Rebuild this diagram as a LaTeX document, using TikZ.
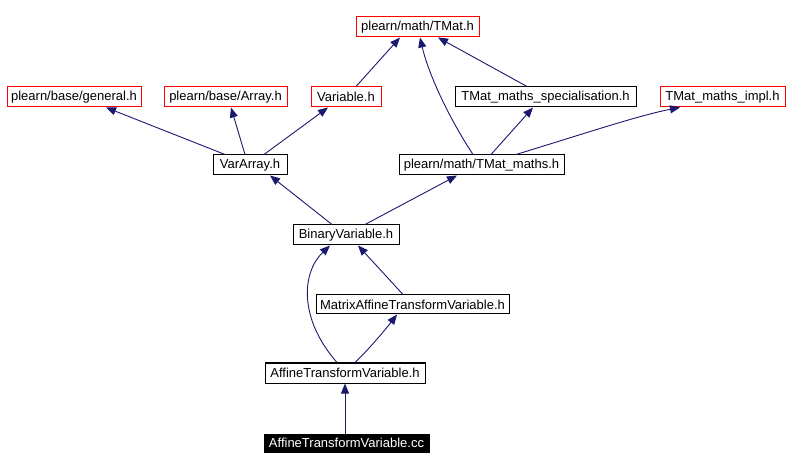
\documentclass[tikz,border=0pt]{standalone}
\usepackage{fontspec}
\setmainfont{Liberation Sans}
\usetikzlibrary{arrows.meta}
\definecolor{edgecol}{HTML}{191970}
\definecolor{boxred}{RGB}{255,0,0}
\tikzset{
  basebox/.style={rectangle, inner sep=0pt, line width=1pt, minimum height=20pt, font=\fontsize{13}{15}\selectfont},
  filebox/.style={basebox, draw=black},
  redbox/.style={basebox, draw=boxred},
  mainbox/.style={basebox, draw=black, fill=black, text=white, minimum height=18pt},
  dep/.style={draw=edgecol, line width=0.9pt, -{Triangle[length=10pt,width=8pt]}, edgecol},
}
\begin{document}
\begin{tikzpicture}[x=1pt,y=-1pt]
\useasboundingbox (0,0) rectangle (790,470);
\node[redbox, minimum width=123pt] (tmat) at (417.5,27) {plearn/math/TMat.h};
\node[redbox, minimum width=134pt] (gen) at (74,97) {plearn/base/general.h};
\node[redbox, minimum width=123pt] (arr) at (225.5,97) {plearn/base/Array.h};
\node[redbox, minimum width=70pt] (var) at (346,97) {Variable.h};
\node[filebox, minimum width=181pt] (spec) at (545.5,97) {TMat\_maths\_specialisation.h};
\node[redbox, minimum width=125pt] (impl) at (722.5,97) {TMat\_maths\_impl.h};
\node[filebox, minimum width=74pt] (va) at (250,165) {VarArray.h};
\node[filebox, minimum width=165pt] (tm) at (481.5,165) {plearn/math/TMat\_maths.h};
\node[filebox, minimum width=106pt] (bin) at (346,235) {BinaryVariable.h};
\node[filebox, minimum width=193pt, minimum height=19pt] (mat) at (412.5,304.5) {MatrixAffineTransformVariable.h};
\node[filebox, minimum width=160pt] (atv) at (345,373) {AffineTransformVariable.h};
\node[mainbox, minimum width=165pt] (cc) at (346.5,443) {AffineTransformVariable.cc};

\draw[dep] ([xshift=-25pt]va.north) -- ([xshift=32pt]gen.south);
\draw[dep] ([xshift=-5pt]va.north) -- ([xshift=5.5pt]arr.south);
\draw[dep] ([xshift=14pt]va.north) -- ([xshift=-18pt]var.south);
\draw[dep] ([xshift=10pt]var.north) -- ([xshift=-17.5pt]tmat.south);
\draw[dep] ([xshift=-8.5pt]tm.north) .. controls (447,115) and (428,72) .. ([xshift=2.5pt]tmat.south);
\draw[dep] ([xshift=-18.5pt]spec.north) -- ([xshift=20.5pt]tmat.south);
\draw[dep] ([xshift=9.5pt]tm.north) -- ([xshift=-12.5pt]spec.south);
\draw[dep] ([xshift=34.5pt]tm.north) .. controls (580,135) and (640,115) .. ([xshift=-42.5pt]impl.south);
\draw[dep] ([xshift=-14pt]bin.north) -- ([xshift=20pt]va.south);
\draw[dep] ([xshift=19pt]bin.north) -- ([xshift=-24.5pt]tm.south);
\draw[dep] ([xshift=-9.5pt]mat.north) -- ([xshift=12pt]bin.south);
\draw[dep] ([xshift=-8pt]atv.north) .. controls (298,318) and (302,272) .. ([xshift=-16pt]bin.south);
\draw[dep] ([xshift=10pt]atv.north) .. controls (370,348) and (385,330) .. ([xshift=-15.5pt]mat.south);
\draw[dep] ([xshift=-1.5pt]cc.north) -- ([xshift=0pt]atv.south);
\end{tikzpicture}
\end{document}
